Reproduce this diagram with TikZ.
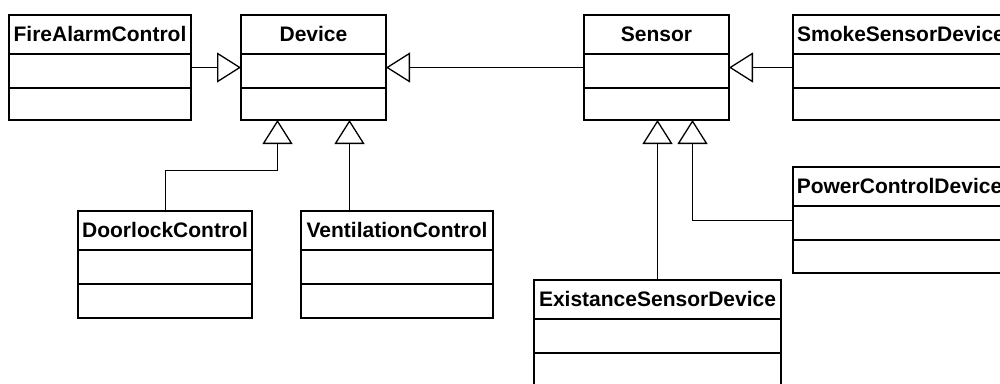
\documentclass[tikz,border=0pt]{standalone}
\usepackage{fontspec}
\setmainfont{Liberation Sans}
\usetikzlibrary{arrows.meta,calc}
\tikzset{
  umlbox/.style={draw, line width=2pt, inner sep=0pt, outer sep=0pt, anchor=north west, fill=white},
  classname/.style={font=\fontsize{21}{24}\selectfont\bfseries, anchor=base, inner sep=0pt},
  compart/.style={line width=2pt},
  gen/.style={line width=1pt, -{Triangle[open, length=24pt, width=30pt, line width=1.3pt]}},
}
% class box: name, left, top, width, height, title
\newcommand\umlclass[6]{%
  \node[umlbox, minimum width=#4pt, minimum height=#5pt] (#1) at (#2,#3) {};
  \draw[compart] ($(#1.north west)+(0,38.5)$) -- ($(#1.north east)+(0,38.5)$);
  \draw[compart] ($(#1.north west)+(0,72.5)$) -- ($(#1.north east)+(0,72.5)$);
  \node[classname] (#1-name) at ($(#1.north)+(0,26.5)$) {#6};
}
\begin{document}
\begin{tikzpicture}[x=1pt,y=-1pt]
  \useasboundingbox (0,0) rectangle (1000,383);
  \fill[white] (0,0) rectangle (1000,383);
  \clip (0,0) rectangle (1000,383);

  \umlclass{fa}{9}{15}{182}{105}{FireAlarmControl}
  \umlclass{dev}{241}{15}{145}{105}{Device}
  \umlclass{sen}{584}{15}{145}{105}{Sensor}
  \umlclass{smoke}{793}{15}{216}{105}{SmokeSensorDevice}
  \umlclass{door}{78}{211}{174}{107}{DoorlockControl}
  \umlclass{vent}{301}{211}{192}{107}{VentilationControl}
  \umlclass{pc}{793}{167}{213}{106}{PowerControlDevice}
  \umlclass{ex}{534}{280}{247}{120}{ExistanceSensorDevice}

  \coordinate (devB1) at ($(dev.south)+(-36,0)$);
  \coordinate (devB2) at ($(dev.south)+(36,0)$);
  \coordinate (senB2) at ($(sen.south)+(36,0)$);

  \draw[gen] (fa.east) -- (dev.west);
  \draw[gen] (sen.west) -- (dev.east);
  \draw[gen] (smoke.west) -- (sen.east);
  \draw[gen] (door.north) -- ++(0,-41) -| (devB1);
  \draw[gen] (vent.north -| devB2) -- (devB2);
  \draw[gen] (ex.north) -- (ex.north |- sen.south);
  \draw[gen] (pc.west) -| (senB2);
\end{tikzpicture}
\end{document}
